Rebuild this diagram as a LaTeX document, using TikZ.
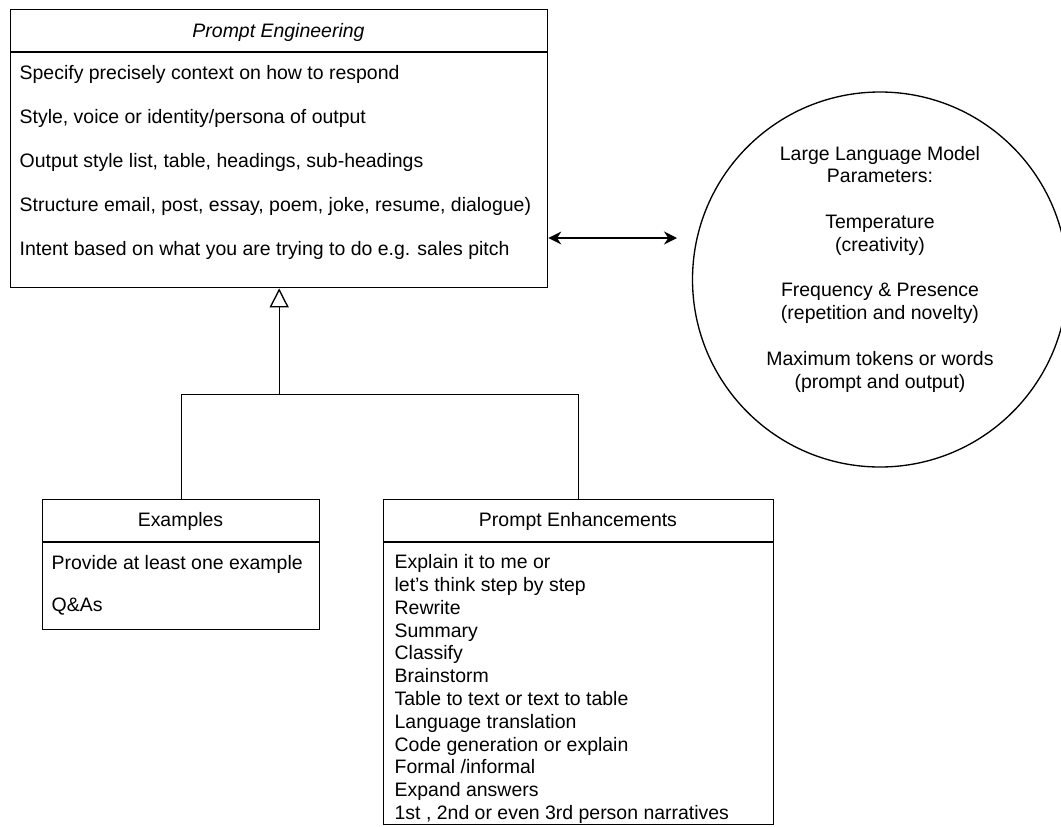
\documentclass[tikz,border=0pt]{standalone}
\usepackage{fontspec}
\setmainfont{Liberation Sans}
\usetikzlibrary{positioning, arrows.meta}

\begin{document}
\begin{tikzpicture}[x=0.75pt, y=-0.75pt, line width=1pt,
  box/.style={draw, inner sep=0pt, anchor=north west},
  item/.style={anchor=west, inner sep=0pt, font=\fontsize{14.6}{17.1}\selectfont},
  head/.style={inner sep=0pt, font=\fontsize{14.6}{17.1}\selectfont}]

\useasboundingbox (0,0) rectangle (1061,826);

% Prompt engineering class
\node[box, minimum width=402.75pt, minimum height=208.5pt] (eng) at (10,9) {};
\draw ([yshift=-32.25pt]eng.north west) -- ([yshift=-32.25pt]eng.north east);
\node[head] (engtitle) at (278.5,32) {\itshape Prompt Engineering};
\foreach \txt [count=\i] in {{Specify precisely context on how to respond},
    {Style, voice or identity/persona of output},
    {Output style list, table, headings, sub-headings},
    {Structure email, post, essay, poem, joke, resume, dialogue)},
    {Intent based on what you are trying to do e.g. sales pitch}}
  \node[item] (engitem\i) at (19,{30+44*\i}) {\txt};

% Model parameters
\node[draw, circle, minimum size=281.25pt, inner sep=0pt] (llm) at (880,279.5) {};
\node[head, align=center] (llmtext) at (880,269) {Large Language Model\\Parameters:\\[17.1pt]
  Temperature\\(creativity)\\[17.1pt]
  Frequency \& Presence\\(repetition and novelty)\\[17.1pt]
  Maximum tokens or words\\(prompt and output)};

% Examples class
\node[box, minimum width=207.75pt, minimum height=97.5pt] (ex) at (42,499) {};
\draw ([yshift=-32.25pt]ex.north west) -- ([yshift=-32.25pt]ex.north east);
\node[head] (extitle) at (180.5,521) {Examples};
\node[item] (exitem1) at (51,564) {Provide at least one example};
\node[item] (exitem2) at (51,607) {Q\&As};

% Prompt enhancements class
\node[box, minimum width=292.5pt, minimum height=243.75pt] (enh) at (383,499) {};
\draw ([yshift=-32.25pt]enh.north west) -- ([yshift=-32.25pt]enh.north east);
\node[head] (enhtitle) at (578,521) {Prompt Enhancements};
\node[item, align=left] (enhlist) at (394,689) {Explain it to me or\\
  let's think step by step\\
  Rewrite\\
  Summary\\
  Classify\\
  Brainstorm\\
  Table to text or text to table\\
  Language translation\\
  Code generation or explain\\
  Formal /informal\\
  Expand answers\\
  1st , 2nd or even 3rd person narratives};

% Connectors
\coordinate (llmtip) at (677,238);
\draw[{Stealth[length=9.75pt,width=9.75pt]}-{Stealth[length=9.75pt,width=9.75pt]}] (eng.east |- llmtip) -- (llmtip);
\path (eng.south) ++(0,106) coordinate (join);
\draw[-{Triangle[open,length=14.25pt,width=14.25pt]}] (join) -- (eng.south);
\draw (ex.north) |- (join) -| (enh.north);
\end{tikzpicture}
\end{document}
